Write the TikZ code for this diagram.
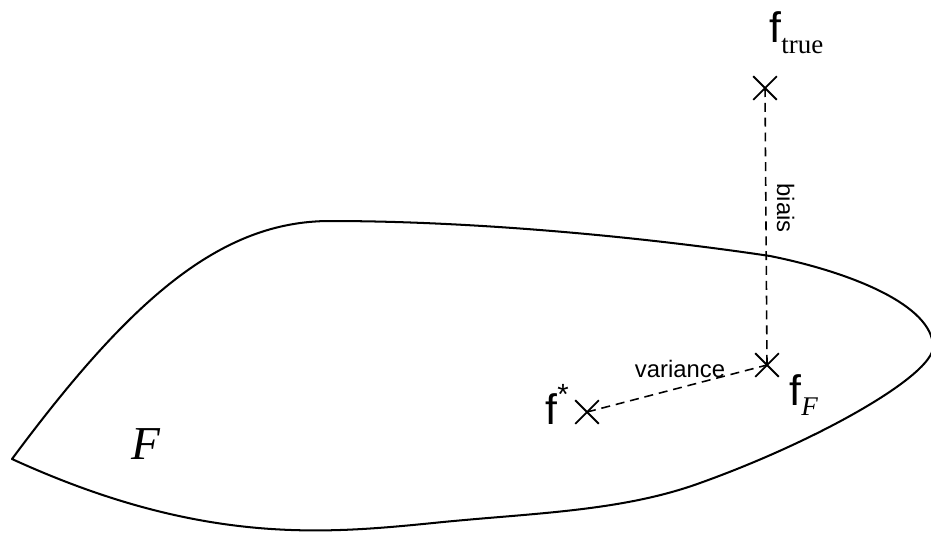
\documentclass[tikz,border=0pt]{standalone}
\usepackage{fontspec}
\setmainfont{Liberation Sans}
\newfontfamily\timesfam{Liberation Serif}
\usetikzlibrary{shapes.misc}

\begin{document}
\begin{tikzpicture}[x=0.445pt,y=-0.445pt,
  cpoint/.style={draw,cross out,line width=0.8pt,minimum size=10.5pt,inner sep=0pt,outer sep=0pt},
  link/.style={dashed,dash pattern=on 4pt off 2.6pt,line width=0.7pt},
  bigf/.style={inner sep=0pt,anchor=base west,font=\fontsize{19}{19}\selectfont},
  small/.style={inner sep=0pt,font=\fontsize{10.6}{12}\selectfont}]
\useasboundingbox (0,0) rectangle (931,534);
\draw[line width=0.9pt,line join=round]
  (12,459) .. controls (130,300) and (220,221) .. (330,221)
  .. controls (480,221) and (650,238) .. (770,256)
  .. controls (850,272) and (933,305) .. (933,347)
  .. controls (933,375) and (820,440) .. (700,483)
  .. controls (620,512) and (530,513) .. (433,523)
  .. controls (323,534) and (200,545) .. (12,459) -- cycle;
\node[inner sep=0pt,font=\timesfam\itshape\fontsize{21}{21}\selectfont] (lspace) at (146,444) {F};
\node[cpoint] (ftrue) at (765,88) {};
\node[cpoint] (fF) at (767,365) {};
\node[cpoint] (fstar) at (587,412) {};
\draw[link] (ftrue.center) -- (fF.center);
\draw[link] (fstar.center) -- (fF.center);
\node[bigf] (ltrue) at (769,42) {f\raisebox{-5pt}{\timesfam\fontsize{12}{12}\selectfont true}};
\node[bigf] (lF) at (789,405) {f\raisebox{-4.5pt}{\timesfam\itshape\fontsize{12}{12}\selectfont F}};
\node[bigf] (lstar) at (545,424) {f\raisebox{0.45em}{\fontsize{13}{13}\selectfont *}};
\node[small,anchor=base] (lvar) at (680,377) {variance};
\node[small,anchor=base,rotate=-90] (lbias) at (777,208) {biais};
\end{tikzpicture}
\end{document}
